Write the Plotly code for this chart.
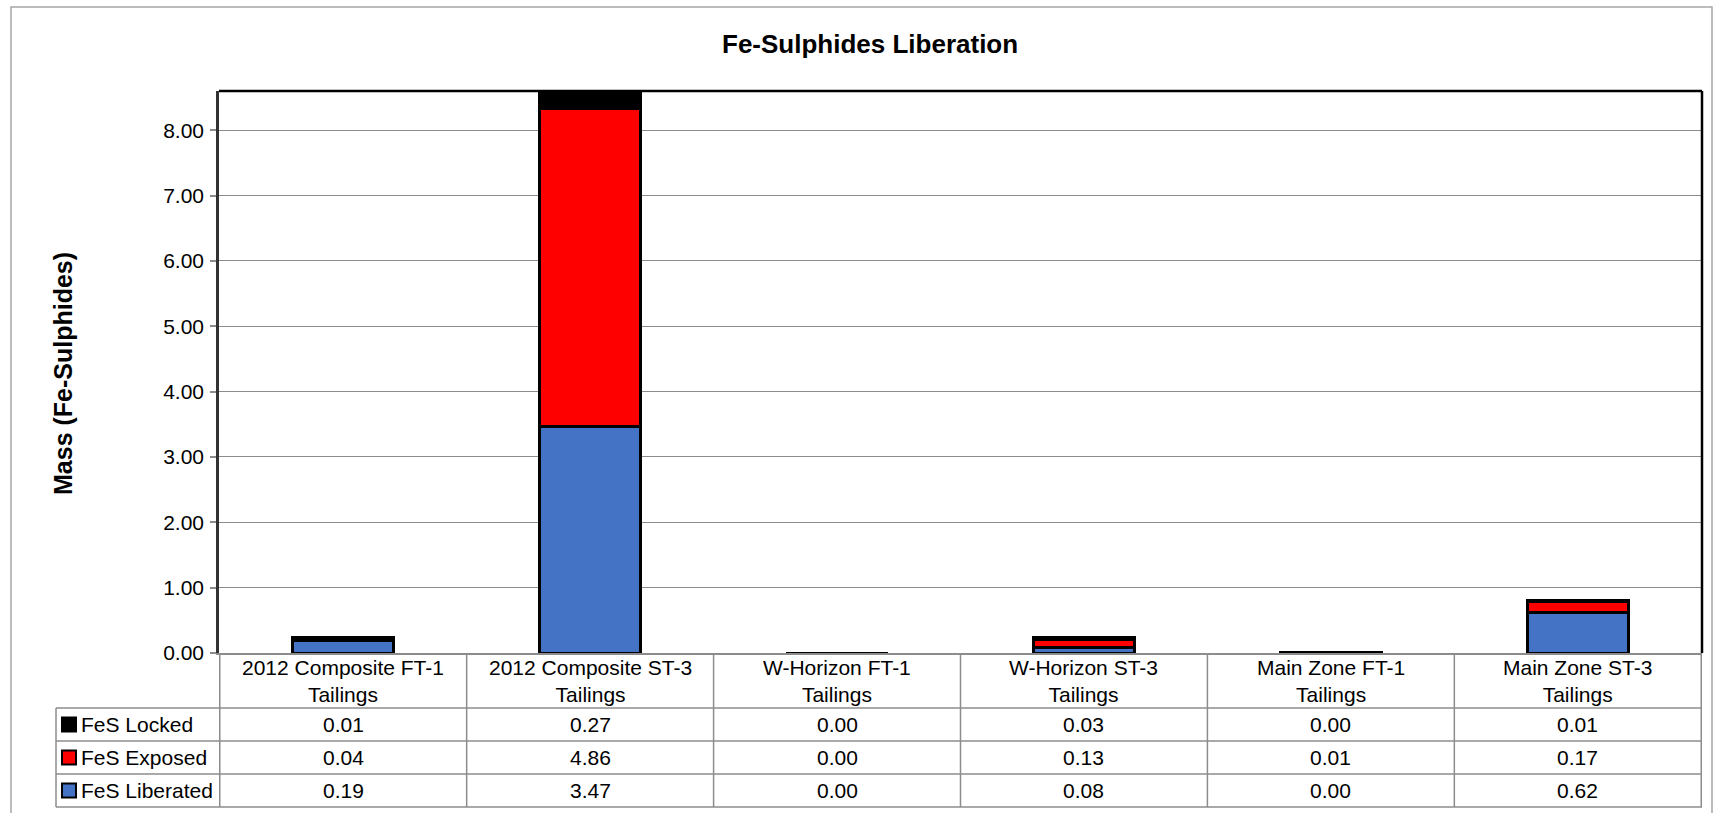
import plotly.graph_objects as go

# data
categories = ["2012 Composite FT-1 Tailings", "2012 Composite ST-3 Tailings",
              "W-Horizon FT-1 Tailings", "W-Horizon ST-3 Tailings",
              "Main Zone FT-1 Tailings", "Main Zone ST-3 Tailings"]
cat_line1 = ["2012 Composite FT-1", "2012 Composite ST-3", "W-Horizon FT-1",
             "W-Horizon ST-3", "Main Zone FT-1", "Main Zone ST-3"]
cat_line2 = ["Tailings"] * 6
locked = [0.01, 0.27, 0.00, 0.03, 0.00, 0.01]
exposed = [0.04, 4.86, 0.00, 0.13, 0.01, 0.17]
liberated = [0.19, 3.47, 0.00, 0.08, 0.00, 0.62]

series = [("FeS Liberated", liberated, "#4472C4"),
          ("FeS Exposed", exposed, "#FF0000"),
          ("FeS Locked", locked, "#000000")]

FONT = "Liberation Sans, Arial, sans-serif"
W_FIG, H_FIG = 1714, 813
L, R, T, B = 219, 1702, 91, 653
PW, PH = R - L, B - T


def px(xp):
    return (xp - L) / PW


def py(yp):
    return (B - yp) / PH


fig = go.Figure()
for name, vals, col in series:
    fig.add_trace(go.Bar(x=categories, y=vals, name=name,
                         marker=dict(color=col, line=dict(color="black", width=3))))

grey = "#8c8c8c"
shapes = []
annos = []

# outer chart frame
shapes.append(dict(type="rect", xref="paper", yref="paper", x0=px(11), x1=px(1712),
                   y0=py(7), y1=py(814), line=dict(color="#a6a6a6", width=1.5),
                   layer="below"))
# top and right plot borders
shapes.append(dict(type="line", xref="paper", yref="paper", x0=0, x1=1, y0=1, y1=1,
                   line=dict(color="black", width=2.5)))
shapes.append(dict(type="line", xref="paper", yref="paper", x0=1, x1=1, y0=0, y1=1,
                   line=dict(color="black", width=2.5)))

# data table
rows = [("FeS Locked", locked, "#000000"),
        ("FeS Exposed", exposed, "#FF0000"),
        ("FeS Liberated", liberated, "#4472C4")]
row_edges = [708, 741, 774, 807]
for yl in row_edges:
    shapes.append(dict(type="line", xref="paper", yref="paper", x0=px(56), x1=1,
                       y0=py(yl), y1=py(yl), line=dict(color=grey, width=1.5)))
shapes.append(dict(type="line", xref="paper", yref="paper", x0=px(56), x1=px(56),
                   y0=py(708), y1=py(807), line=dict(color=grey, width=1.5)))
for k in range(len(categories) + 1):
    shapes.append(dict(type="line", xref="x", yref="paper", x0=k - 0.5, x1=k - 0.5,
                       y0=py(653), y1=py(807), line=dict(color=grey, width=1.5)))

for i in range(len(categories)):
    annos.append(dict(x=categories[i], y=py(680.5), xref="x", yref="paper",
                      text=cat_line1[i] + "<br>" + cat_line2[i], showarrow=False,
                      yanchor="middle", font=dict(size=21, color="black", family=FONT)))

for r, (name, vals, col) in enumerate(rows):
    yc = (row_edges[r] + row_edges[r + 1]) / 2
    shapes.append(dict(type="rect", xref="paper", yref="paper", x0=px(62), x1=px(76),
                       y0=py(yc - 7), y1=py(yc + 7), fillcolor=col,
                       line=dict(color="black", width=2)))
    annos.append(dict(x=px(79), y=py(yc), xref="paper", yref="paper", text=name,
                      showarrow=False, xanchor="left", yanchor="middle",
                      font=dict(size=21, color="black", family=FONT)))
    for i, v in enumerate(vals):
        annos.append(dict(x=categories[i], y=py(yc), xref="x", yref="paper",
                          text=f"{v:.2f}", showarrow=False, yanchor="middle",
                          font=dict(size=21, color="black", family=FONT)))

# titles
annos.append(dict(x=px(870), y=py(44), xref="paper", yref="paper",
                  text="<b>Fe-Sulphides Liberation</b>", showarrow=False,
                  yanchor="middle", font=dict(size=26, color="black", family=FONT)))
annos.append(dict(x=px(63), y=py(374), xref="paper", yref="paper",
                  text="<b>Mass (Fe-Sulphides)</b>", showarrow=False, textangle=-90,
                  xanchor="center", yanchor="middle",
                  font=dict(size=25, color="black", family=FONT)))

fig.update_layout(
    width=W_FIG, height=H_FIG,
    margin=dict(l=L, r=W_FIG - R, t=T, b=H_FIG - B, pad=0),
    barmode="stack", bargap=0.59,
    showlegend=False,
    plot_bgcolor="white", paper_bgcolor="white",
    font=dict(family=FONT, size=21, color="black"),
    shapes=shapes, annotations=annos,
    xaxis=dict(showticklabels=False, showgrid=False, showline=True,
               linecolor=grey, linewidth=2, zeroline=False),
    yaxis=dict(range=[0, 8.6], dtick=1, tickformat=".2f", showgrid=True,
               gridcolor=grey, gridwidth=1.3, zeroline=False, showline=True,
               linecolor="#333333", linewidth=2.5, ticks="outside", ticklen=6,
               tickcolor=grey, tickwidth=1.5, ticklabelstandoff=2,
               tickfont=dict(size=21, family=FONT, color="black")),
)

fig.write_html("out.html", config={"displayModeBar": False},
               post_script="document.body.style.margin='0';document.body.style.overflow='hidden';")
